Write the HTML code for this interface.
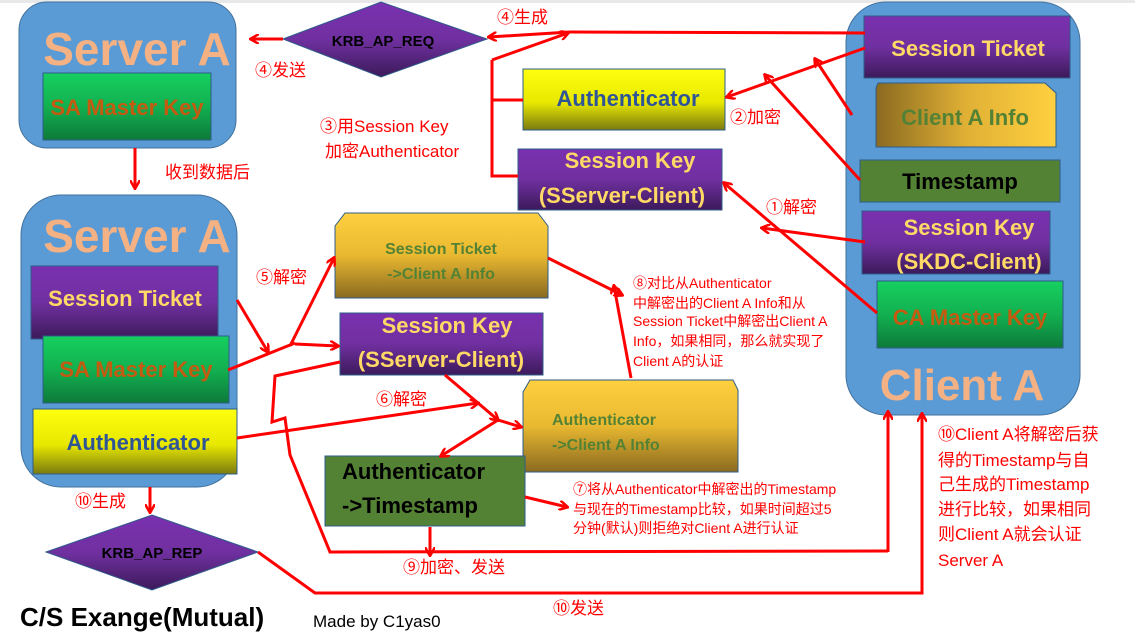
<!DOCTYPE html>
<html><head><meta charset="utf-8"><style>
html,body{margin:0;padding:0;background:#fff;}
svg{display:block;font-family:"Liberation Sans","Noto Sans CJK SC",sans-serif;}
.r{fill:#ff0000;font-size:17px;}
.ln{stroke:#ff0000;stroke-width:3;fill:none;}
</style></head><body>
<svg width="1135" height="634" viewBox="0 0 1135 634" xmlns="http://www.w3.org/2000/svg">
<defs>
<marker id="a" markerWidth="10" markerHeight="10" refX="8" refY="5" orient="auto" markerUnits="userSpaceOnUse"><path d="M0,0 L9,5 L0,10" fill="none" stroke="#f00" stroke-width="2.5"/></marker>
<linearGradient id="pu" x1="0" y1="0" x2="0" y2="1"><stop offset="0" stop-color="#7a30b0"/><stop offset="0.5" stop-color="#7030a0"/><stop offset="1" stop-color="#3c1a5a"/></linearGradient>
<linearGradient id="gr" x1="0" y1="0" x2="0" y2="1"><stop offset="0" stop-color="#16d060"/><stop offset="0.5" stop-color="#12b050"/><stop offset="1" stop-color="#0d7a3a"/></linearGradient>
<linearGradient id="ye" x1="0" y1="0" x2="0" y2="1"><stop offset="0" stop-color="#ffff10"/><stop offset="0.55" stop-color="#e8e800"/><stop offset="1" stop-color="#7a7a10"/></linearGradient>
<linearGradient id="go" x1="0" y1="0" x2="0" y2="1"><stop offset="0" stop-color="#ffd040"/><stop offset="0.5" stop-color="#e8b830"/><stop offset="1" stop-color="#8a6a20"/></linearGradient>
<linearGradient id="goh" x1="0" y1="0" x2="1" y2="0"><stop offset="0" stop-color="#8a6a20"/><stop offset="0.5" stop-color="#e0b035"/><stop offset="1" stop-color="#ffd040"/></linearGradient>
</defs>
<rect x="0" y="0" width="1135" height="3" fill="#e8e8e8"/>
<rect x="19" y="2" width="217" height="146" rx="28" fill="#5b9bd5" stroke="#41719c"/>
<text x="137" y="65" font-size="46" font-weight="bold" fill="#f4b183" text-anchor="middle">Server A</text>
<rect x="43" y="73" width="168" height="67" fill="url(#gr)" stroke="#2e5c8a"/>
<text x="127" y="115" font-size="22" font-weight="bold" fill="#c55a11" text-anchor="middle">SA Master Key</text>
<rect x="21" y="195" width="216" height="292" rx="40" fill="#5b9bd5" stroke="#41719c"/>
<text x="137" y="252" font-size="46" font-weight="bold" fill="#f4b183" text-anchor="middle">Server A</text>
<rect x="31" y="266" width="187" height="73" fill="url(#pu)" stroke="#2e5c8a"/>
<text x="125" y="306" font-size="22" font-weight="bold" fill="#ffd966" text-anchor="middle">Session Ticket</text>
<rect x="43" y="336" width="186" height="67" fill="url(#gr)" stroke="#2e5c8a"/>
<text x="136" y="377" font-size="22" font-weight="bold" fill="#c55a11" text-anchor="middle">SA Master Key</text>
<rect x="33" y="409" width="204" height="65" fill="url(#ye)" stroke="#2e5c8a"/>
<text x="138" y="450" font-size="22" font-weight="bold" fill="#2f5597" text-anchor="middle">Authenticator</text>
<rect x="846" y="2" width="234" height="413" rx="40" fill="#5b9bd5" stroke="#41719c"/>
<rect x="864" y="16" width="206" height="62" fill="url(#pu)" stroke="#2e5c8a"/>
<text x="968" y="56" font-size="22" font-weight="bold" fill="#ffd966" text-anchor="middle">Session Ticket</text>
<path d="M878,83 L1045,83 L1056,93 L1056,147 L876,147 L876,88 Z" fill="url(#goh)" stroke="#2e5c8a"/>
<text x="965" y="125" font-size="22" font-weight="bold" fill="#548235" text-anchor="middle">Client A Info</text>
<rect x="860" y="160" width="200" height="42" fill="#548235" stroke="#2e5c8a"/>
<text x="960" y="189" font-size="22" font-weight="bold" fill="#000" text-anchor="middle">Timestamp</text>
<rect x="862" y="211" width="188" height="63" fill="url(#pu)" stroke="#2e5c8a"/>
<text x="969" y="235" font-size="22" font-weight="bold" fill="#ffd966" text-anchor="middle">Session Key</text>
<text x="969" y="269" font-size="22" font-weight="bold" fill="#ffd966" text-anchor="middle">(SKDC-Client)</text>
<rect x="877" y="281" width="186" height="67" fill="url(#gr)" stroke="#2e5c8a"/>
<text x="970" y="325" font-size="22" font-weight="bold" fill="#c55a11" text-anchor="middle">CA Master Key</text>
<text x="962" y="400" font-size="44" font-weight="bold" fill="#f4b183" text-anchor="middle">Client A</text>
<path d="M283,39 L381,2 L487,39 L381,77 Z" fill="url(#pu)" stroke="#2e5c8a"/>
<text x="383" y="46" font-size="15" font-weight="bold" fill="#000" text-anchor="middle">KRB_AP_REQ</text>
<path d="M46,552 L152,515 L258,552 L152,590 Z" fill="url(#pu)" stroke="#2e5c8a"/>
<text x="152" y="558" font-size="15" font-weight="bold" fill="#000" text-anchor="middle">KRB_AP_REP</text>
<rect x="523" y="69" width="202" height="61" fill="url(#ye)" stroke="#2e5c8a"/>
<text x="628" y="106" font-size="22" font-weight="bold" fill="#2f5597" text-anchor="middle">Authenticator</text>
<rect x="518" y="149" width="204" height="61" fill="url(#pu)" stroke="#2e5c8a"/>
<text x="630" y="168" font-size="22" font-weight="bold" fill="#ffd966" text-anchor="middle">Session Key</text>
<text x="622" y="203" font-size="22" font-weight="bold" fill="#ffd966" text-anchor="middle">(SServer-Client)</text>
<path d="M345,213 L538,213 L548,226 L548,298 L335,298 L335,226 Z" fill="url(#go)" stroke="#2e5c8a"/>
<text x="441" y="254" font-size="16" font-weight="bold" fill="#548235" text-anchor="middle">Session Ticket</text>
<text x="441" y="279" font-size="16" font-weight="bold" fill="#548235" text-anchor="middle">-&gt;Client A Info</text>
<rect x="340" y="313" width="203" height="62" fill="url(#pu)" stroke="#2e5c8a"/>
<text x="447" y="333" font-size="22" font-weight="bold" fill="#ffd966" text-anchor="middle">Session Key</text>
<text x="441" y="367" font-size="22" font-weight="bold" fill="#ffd966" text-anchor="middle">(SServer-Client)</text>
<path d="M530,380 L733,380 L738,390 L738,472 L523,472 L523,392 Z" fill="url(#go)" stroke="#2e5c8a"/>
<text x="552" y="425" font-size="16" font-weight="bold" fill="#548235">Authenticator</text>
<text x="552" y="450" font-size="16" font-weight="bold" fill="#548235">-&gt;Client A Info</text>
<rect x="325" y="456" width="200" height="70" fill="#548235" stroke="#2e5c8a"/>
<text x="342" y="479" font-size="22" font-weight="bold" fill="#000">Authenticator</text>
<text x="342" y="513" font-size="22" font-weight="bold" fill="#000">-&gt;Timestamp</text>
<path class="ln" d="M865,33 L570,32" />
<path class="ln" d="M570,32 L489,37" marker-end="url(#a)"/>
<path class="ln" d="M492,60 L568,33" marker-end="url(#a)"/>
<path class="ln" d="M523,100 L492,100 M518,176 L492,176 L492,60"/>
<path class="ln" d="M283,39 L251,39" marker-end="url(#a)"/>
<path class="ln" d="M865,48 L727,97" marker-end="url(#a)"/>
<path class="ln" d="M852,115 L815,59" marker-end="url(#a)"/>
<path class="ln" d="M860,180 L765,75" marker-end="url(#a)"/>
<path class="ln" d="M877,313 L724,183" marker-end="url(#a)"/>
<path class="ln" d="M865,242 L762,228" marker-end="url(#a)"/>
<path class="ln" d="M135,148 L135,188" marker-end="url(#a)"/>
<path class="ln" d="M237,300 L268,352" marker-end="url(#a)"/>
<path class="ln" d="M228,370 L295,343"/>
<path class="ln" d="M290,346 L334,258" marker-end="url(#a)"/>
<path class="ln" d="M295,344 L338,346" marker-end="url(#a)"/>
<path class="ln" d="M340,362 L275,376 L272,422 L285,418 L290,455 L330,552 L888,551"/>
<path class="ln" d="M888,552 L888,412" marker-end="url(#a)"/>
<path class="ln" d="M237,438 L478,403" marker-end="url(#a)"/>
<path class="ln" d="M445,375 L498,420" marker-end="url(#a)"/>
<path class="ln" d="M498,420 L521,427" marker-end="url(#a)"/>
<path class="ln" d="M498,420 L441,456" marker-end="url(#a)"/>
<path class="ln" d="M430,527 L430,555" marker-end="url(#a)"/>
<path class="ln" d="M525,497 L567,507" marker-end="url(#a)"/>
<path class="ln" d="M548,258 L622,295" marker-end="url(#a)"/>
<path class="ln" d="M631,378 L614,286" marker-end="url(#a)"/>
<path class="ln" d="M258,552 L315,593 L922,593 L922,414" marker-end="url(#a)"/>
<path class="ln" d="M150,487 L150,512" marker-end="url(#a)"/>
<text class="r" x="497" y="23">④生成</text>
<text class="r" x="255" y="76">④发送</text>
<text class="r" x="730" y="123">②加密</text>
<text class="r" x="320" y="132">③用Session Key</text>
<text class="r" x="325" y="157">加密Authenticator</text>
<text class="r" x="165" y="178">收到数据后</text>
<text class="r" x="766" y="213">①解密</text>
<text class="r" x="256" y="283">⑤解密</text>
<text class="r" x="376" y="405">⑥解密</text>
<text class="r" x="75" y="507">⑩生成</text>
<text class="r" x="403" y="573">⑨加密、发送</text>
<text class="r" x="553" y="614">⑩发送</text>
<g style="font-size:14px" fill="#f00">
<text x="633" y="288">⑧对比从Authenticator</text>
<text x="633" y="308">中解密出的Client A Info和从</text>
<text x="633" y="326">Session Ticket中解密出Client A</text>
<text x="633" y="346">Info，如果相同，那么就实现了</text>
<text x="633" y="366">Client A的认证</text>
<text x="573" y="494">⑦将从Authenticator中解密出的Timestamp</text>
<text x="573" y="514">与现在的Timestamp比较，如果时间超过5</text>
<text x="573" y="533">分钟(默认)则拒绝对Client A进行认证</text>
</g>
<g class="r" style="font-size:17px">
<text x="938" y="440">⑩Client A将解密后获</text>
<text x="938" y="466">得的Timestamp与自</text>
<text x="938" y="490">己生成的Timestamp</text>
<text x="938" y="515">进行比较，如果相同</text>
<text x="938" y="540">则Client A就会认证</text>
<text x="938" y="566">Server A</text>
</g>
<text x="20" y="626" font-size="26" font-weight="bold" fill="#000">C/S Exange(Mutual)</text>
<text x="313" y="627" font-size="17" fill="#000">Made by C1yas0</text>
</svg>
</body></html>
